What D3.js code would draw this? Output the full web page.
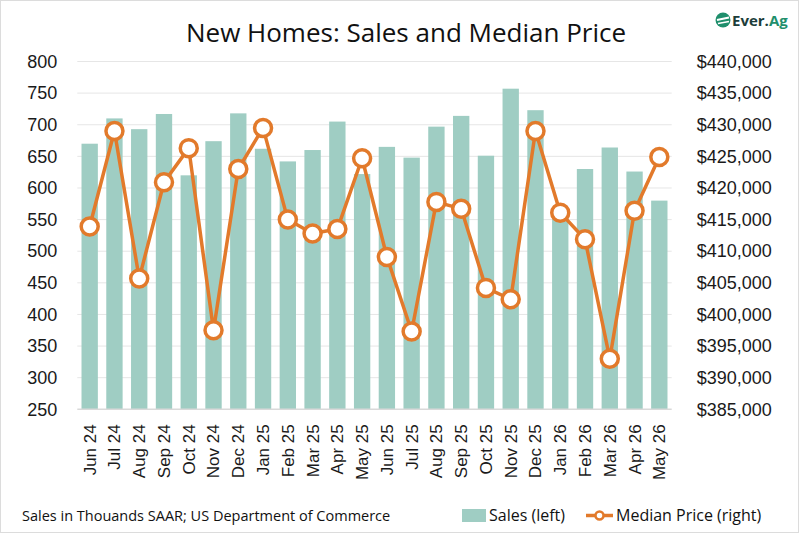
<!DOCTYPE html>
<html>
<head>
<meta charset="utf-8">
<script src="https://cdn.jsdelivr.net/npm/d3@7"></script>
<style>
  body { margin: 0; background: #fff; }
  svg { display: block; }
</style>
</head>
<body>
<div id="container"></div>
<script>
'use strict'

// months on the x axis
const months = ['Jun 24','Jul 24','Aug 24','Sep 24','Oct 24','Nov 24','Dec 24',
                'Jan 25','Feb 25','Mar 25','Apr 25','May 25','Jun 25','Jul 25',
                'Aug 25','Sep 25','Oct 25','Nov 25','Dec 25','Jan 26','Feb 26',
                'Mar 26','Apr 26','May 26'];
// new home sales, thousands SAAR (left axis)
const sales = [670, 710, 693, 717, 620, 674, 718, 662, 642, 660, 705, 622,
               665, 648, 697, 714, 651, 757, 723, 568, 630, 664, 626, 580];
// median price (right axis)
const medianPrice = [413900, 429000, 405700, 420900, 426300, 397500, 423000, 429500,
                     415000, 412800, 413500, 424700, 409100, 397300, 417800, 416700,
                     404200, 402400, 429000, 416100, 411900, 393000, 416400, 424900];
const leftTicks = d3.range(250, 801, 50);
const rightTicks = d3.range(385000, 440001, 5000);

const width = 799;
const height = 533;
const plot = {left: 77.3, right: 671.7, top: 61.5, bottom: 409.3};

const barColor = '#9fcdc3';
const lineColor = '#e27a2b';
const textFont = "'Liberation Sans', Arial, sans-serif";
const titleFont = "'Open Sans', 'Noto Sans', sans-serif";

const svg = d3.select('#container').append('svg')
    .attr('width', width)
    .attr('height', height);

// thin frame round the picture
svg.append('rect')
    .attr('x', 0.5).attr('y', 0.5)
    .attr('width', width - 1).attr('height', height - 1)
    .attr('fill', '#fff')
    .attr('stroke', '#dcdcdc');

const x = d3.scaleBand()
    .domain(months)
    .range([plot.left, plot.right])
    .paddingInner(0.34)
    .paddingOuter(0.17);

const yLeft = d3.scaleLinear().domain([250, 800]).range([plot.bottom, plot.top]);
const yRight = d3.scaleLinear().domain([385000, 440000]).range([plot.bottom, plot.top]);

// gridlines
svg.append('g').selectAll('line')
    .data(leftTicks.slice(1))
    .enter().append('line')
    .attr('x1', plot.left).attr('x2', plot.right)
    .attr('y1', d => yLeft(d)).attr('y2', d => yLeft(d))
    .attr('stroke', '#e6e6e6')
    .attr('stroke-width', 1);

// left axis
const leftAxis = svg.append('g')
    .attr('transform', `translate(${plot.left - 20},0)`)
    .call(d3.axisLeft(yLeft).tickValues(leftTicks).tickSize(0).tickPadding(0));
leftAxis.select('.domain').remove();
leftAxis.selectAll('text')
    .attr('font-family', textFont)
    .attr('font-size', 18)
    .attr('fill', '#1a1a1a');

// right axis
const rightAxis = svg.append('g')
    .attr('transform', `translate(${plot.right + 25},0)`)
    .call(d3.axisRight(yRight).tickValues(rightTicks).tickSize(0).tickPadding(0)
        .tickFormat(d => '$' + d3.format(',')(d)));
rightAxis.select('.domain').remove();
rightAxis.selectAll('text')
    .attr('font-family', textFont)
    .attr('font-size', 18)
    .attr('fill', '#1a1a1a');

// bars
svg.append('g').selectAll('rect')
    .data(sales)
    .enter().append('rect')
    .attr('x', (d, i) => x(months[i]))
    .attr('y', d => yLeft(d))
    .attr('width', x.bandwidth())
    .attr('height', d => yLeft(250) - yLeft(d))
    .attr('fill', barColor);

// baseline
svg.append('line')
    .attr('x1', plot.left).attr('x2', plot.right)
    .attr('y1', plot.bottom).attr('y2', plot.bottom)
    .attr('stroke', '#d9d9d9')
    .attr('stroke-width', 1.5);

// bottom axis labels, rotated
const bottomAxis = svg.append('g')
    .attr('transform', `translate(0,${plot.bottom})`)
    .call(d3.axisBottom(x).tickSize(0).tickPadding(0));
bottomAxis.select('.domain').remove();
bottomAxis.selectAll('text')
    .attr('font-family', textFont)
    .attr('font-size', 17)
    .attr('fill', '#1a1a1a')
    .attr('text-anchor', 'end')
    .attr('transform', 'rotate(-90)')
    .attr('x', -15)
    .attr('y', 0)
    .attr('dy', '0.35em');

// median price line
const cx = (d, i) => x(months[i]) + x.bandwidth() / 2;
const line = d3.line()
    .x(cx)
    .y(d => yRight(d));

svg.append('path')
    .datum(medianPrice)
    .attr('d', line)
    .attr('fill', 'none')
    .attr('stroke', lineColor)
    .attr('stroke-width', 3.5)
    .attr('stroke-linejoin', 'round');

svg.append('g').selectAll('circle')
    .data(medianPrice)
    .enter().append('circle')
    .attr('cx', cx)
    .attr('cy', d => yRight(d))
    .attr('r', 8.5)
    .attr('fill', '#fff')
    .attr('stroke', lineColor)
    .attr('stroke-width', 3.5);

// title
svg.append('text')
    .attr('x', 406).attr('y', 42)
    .attr('text-anchor', 'middle')
    .attr('font-family', titleFont)
    .attr('font-size', 26)
    .attr('fill', '#111')
    .text('New Homes: Sales and Median Price');

// logo
const logo = svg.append('g').attr('transform', 'translate(723,20)');
logo.append('circle').attr('r', 7.5).attr('fill', '#1f8f6c');
logo.append('line').attr('x1', -6).attr('x2', 6).attr('y1', 0).attr('y2', -2.5)
    .attr('stroke', '#fff').attr('stroke-width', 2);
logo.append('line').attr('x1', -5).attr('x2', 6).attr('y1', 3.5).attr('y2', 1.5)
    .attr('stroke', '#fff').attr('stroke-width', 1.6);
logo.append('text')
    .attr('x', 9).attr('y', 5.5)
    .attr('font-family', titleFont)
    .attr('font-weight', 700)
    .attr('font-size', 15)
    .attr('fill', '#1c3d3a')
    .text('Ever.')
  .append('tspan')
    .attr('fill', '#1f8f6c')
    .text('Ag');

// footnote
svg.append('text')
    .attr('x', 22).attr('y', 521)
    .attr('font-family', titleFont)
    .attr('font-size', 14.5)
    .attr('fill', '#111')
    .text('Sales in Thouands SAAR; US Department of Commerce');

// legend
const legend = svg.append('g');
legend.append('rect')
    .attr('x', 462).attr('y', 509)
    .attr('width', 24).attr('height', 13)
    .attr('fill', barColor);
legend.append('text')
    .attr('x', 489).attr('y', 521)
    .attr('font-family', titleFont)
    .attr('font-size', 16)
    .attr('fill', '#111')
    .text('Sales (left)');
legend.append('line')
    .attr('x1', 586).attr('x2', 613)
    .attr('y1', 515.5).attr('y2', 515.5)
    .attr('stroke', lineColor)
    .attr('stroke-width', 3.5);
legend.append('circle')
    .attr('cx', 599.5).attr('cy', 515.5)
    .attr('r', 4)
    .attr('fill', '#fff')
    .attr('stroke', lineColor)
    .attr('stroke-width', 2.5);
legend.append('text')
    .attr('x', 616).attr('y', 521)
    .attr('font-family', titleFont)
    .attr('font-size', 16)
    .attr('fill', '#111')
    .text('Median Price (right)');
</script>
</body>
</html>
